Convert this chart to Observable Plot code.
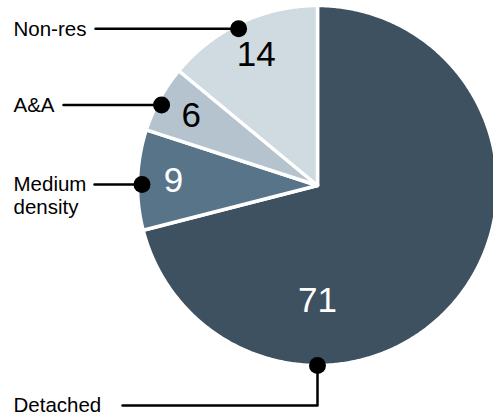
<!DOCTYPE html>
<html><head><meta charset="utf-8">
<script src="https://cdn.jsdelivr.net/npm/d3@7"></script>
<script src="https://cdn.jsdelivr.net/npm/@observablehq/plot@0.6"></script>
<style>body{margin:0;background:#fff} svg{display:block}</style>
</head><body><div id="chart"></div>
<script>
// ---- data ----
const categories = ["Detached", "Medium density", "A&A", "Non-res"];
const values = [71, 9, 6, 14];
const labels = ["Detached", "Medium\ndensity", "A&A", "Non-res"];
const colors = ["#3d5160", "#587488", "#b4c3cd", "#d0dae1"];

// ---- layout ----
const W = 493, H = 415, CX = 317, CY = 185, R = 180;
const ux = px => (px - CX) / R;
const uy = py => (CY - py) / R;
const labelX = 13;
const lineStartX = {"Detached": 122, "Medium density": 94, "A&A": 63, "Non-res": 95};
const detachedElbowY = 405;

const total = d3.sum(values);
let acc = 0;
const slices = categories.map((c, i) => {
  const a0 = acc / total * 2 * Math.PI; acc += values[i];
  const a1 = acc / total * 2 * Math.PI;
  return {cat: c, value: values[i], label: labels[i], color: colors[i], a0, a1, mid: (a0 + a1) / 2};
});
const pt = (a, r) => ({x: r * Math.sin(a), y: r * Math.cos(a)});

// slice polygons
const poly = slices.flatMap(s => {
  const n = Math.max(2, Math.ceil((s.a1 - s.a0) / (Math.PI / 360)));
  const pts = [{cat: s.cat, x: 0, y: 0}];
  for (let k = 0; k <= n; k++) pts.push({cat: s.cat, ...pt(s.a0 + (s.a1 - s.a0) * k / n, 1)});
  pts.push({cat: s.cat, x: 0, y: 0});
  return pts;
});

// value labels
const big = s => s.value / total > 0.5;
const valueLabels = slices.map(s => {
  const a = big(s) ? Math.PI : s.mid;
  const r = big(s) ? 0.64 : 0.8;
  return {...pt(a, r), text: String(s.value), fill: d3.lab(s.color).l > 60 ? "black" : "white"};
});

// callouts
const callouts = slices.map(s => {
  const a = big(s) ? Math.PI : s.mid - 1.5 * Math.PI / 180;
  const r = big(s) ? 1 : 0.975;
  const d = pt(a, r);
  const ly = big(s) ? uy(detachedElbowY) : d.y;
  return {cat: s.cat, label: s.label, dx: d.x, dy: d.y, ly};
});
const calloutLines = callouts.flatMap(c => {
  const pts = [{cat: c.cat, x: ux(lineStartX[c.cat]), y: c.ly}];
  if (c.ly !== c.dy) pts.push({cat: c.cat, x: c.dx, y: c.ly});
  pts.push({cat: c.cat, x: c.dx, y: c.dy});
  return pts;
});

const chart = Plot.plot({
  width: W, height: H, margin: 0,
  x: {domain: [ux(0), ux(W)], range: [0, W], axis: null},
  y: {domain: [uy(H), uy(0)], range: [H, 0], axis: null},
  color: {domain: categories, range: colors},
  style: {fontFamily: "'Liberation Sans', Arial, sans-serif", background: "white"},
  marks: [
    Plot.line(poly, {x: "x", y: "y", z: "cat", fill: "cat", stroke: "white", strokeWidth: 3.5, strokeLinejoin: "round"}),
    Plot.text(valueLabels, {x: "x", y: "y", text: "text", fill: d => d.fill, fontSize: 35, textAnchor: "middle", lineAnchor: "middle"}),
    Plot.line(calloutLines, {x: "x", y: "y", z: "cat", stroke: "black", strokeWidth: 2.5}),
    Plot.dot(callouts, {x: "dx", y: "dy", r: 8.5, fill: "black"}),
    Plot.text(callouts, {x: () => ux(labelX), y: "ly", text: "label", textAnchor: "start", lineAnchor: "top", dy: -9.5, fontSize: 20.5, lineHeight: 1.12, fill: "black"})
  ]
});
document.getElementById("chart").appendChild(chart);
</script>
</body></html>
